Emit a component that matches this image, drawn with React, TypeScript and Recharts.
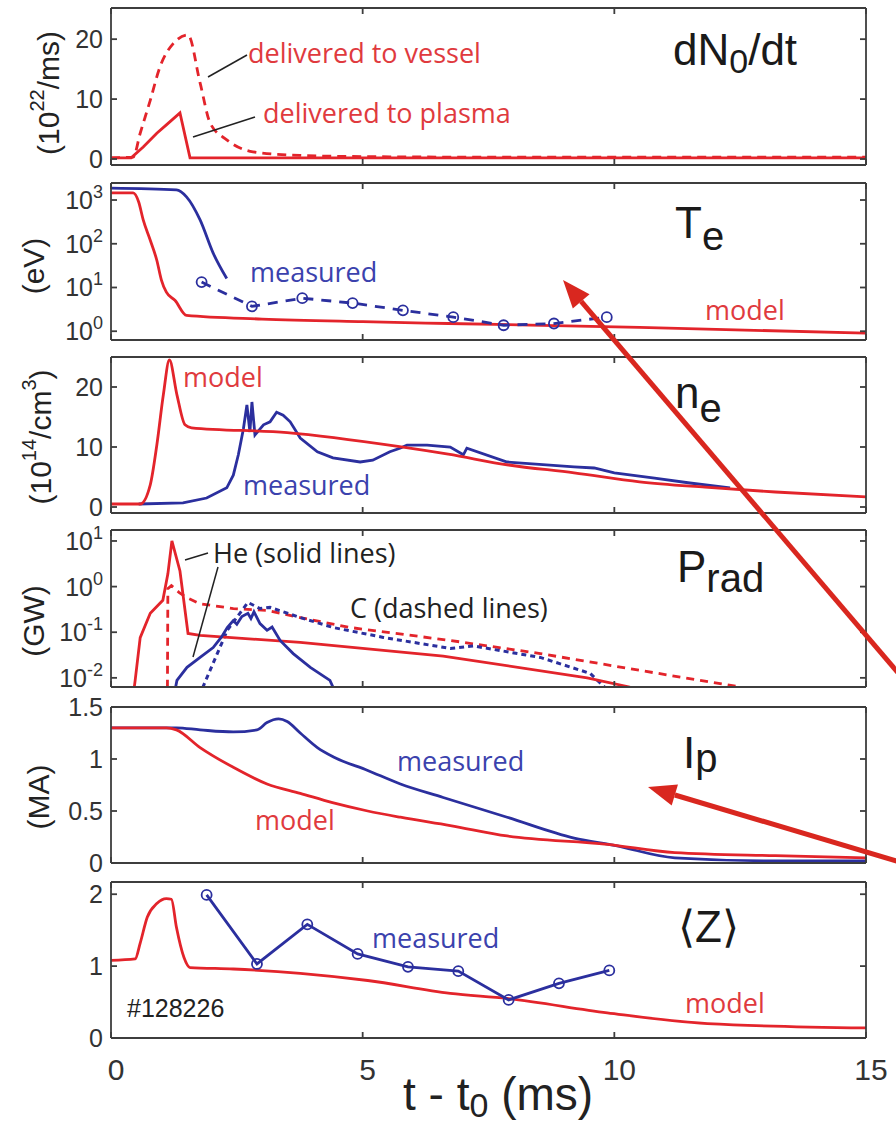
import React from 'react';
import { LineChart, Line, XAxis, YAxis } from 'recharts';

const RED = '#e3242b';
const BLUE = '#2b2f9e';
const RED_TXT = '#e03a3e';
const BLUE_TXT = '#3b42ad';
const AXIS = '#3d3d3d';
const SANS = '"Liberation Sans", Arial, Helvetica, sans-serif';
const MYRIAD = '"Open Sans", "Noto Sans", sans-serif';

const X_TICKS = [0, 5, 10, 15];

// dN0/dt (10^22/ms)
const dnPlasmaT = [0, 0.4, 0.64, 0.91, 1.1, 1.37, 1.57, 15];
const dnPlasmaV = [0.2, 0.2, 2, 4.3, 5.7, 7.7, 0.2, 0.2];
const dnVesselT = [0, 0.44, 0.58, 0.78, 0.97, 1.24, 1.53, 1.77, 1.97, 2.3, 2.82, 3.75, 5, 8, 15];
const dnVesselV = [0.2, 0.3, 4.3, 9.8, 15.3, 19.3, 20.7, 12.7, 6, 3.2, 1.2, 0.6, 0.4, 0.3, 0.3];

// Te (eV), log
const teModelT = [0, 0.44, 0.55, 0.64, 0.78, 0.91, 1.0, 1.1, 1.27, 1.5, 3, 5, 6.7, 10.5, 15];
const teModelV = [1450, 1450, 900, 350, 120, 42, 15, 7.8, 5.1, 2.3, 1.9, 1.65, 1.5, 1.23, 0.9];
const teMeasT = [0, 1.3, 1.5, 1.77, 2.03, 2.3];
const teMeasV = [1880, 1700, 1180, 350, 61, 16];
const teDotsT = [1.8, 2.8, 3.8, 4.8, 5.8, 6.8, 7.8, 8.8, 9.85];
const teDotsV = [13.3, 3.7, 5.7, 4.4, 3.0, 2.1, 1.37, 1.5, 2.1];

// ne (10^14/cm^3)
const neModelT = [0, 0.58, 0.78, 0.91, 1.04, 1.16, 1.31, 1.47, 1.6, 3.5, 5.7, 6.7, 7.9, 9.2, 10.5, 11.8, 13.2, 15];
const neModelV = [0.5, 0.5, 3.7, 10.3, 18.7, 24.5, 18.7, 13.7, 13.2, 12.4, 10.1, 8.8, 7, 5.7, 4.2, 3.3, 2.5, 1.7];
const neMeasT = [0.55, 1.43, 1.9, 2.3, 2.43, 2.53, 2.63, 2.7, 2.76, 2.8, 2.86, 3.03, 3.16, 3.29, 3.42, 3.56, 3.76, 4.1, 4.41, 4.95, 5.2, 5.54, 5.74, 5.88, 6.08, 6.28, 6.74, 7.0, 7.07, 7.87, 9.2, 9.6, 10, 10.8, 11.5, 12.3];
const neMeasV = [0.5, 0.7, 1.5, 3.2, 5.3, 8.7, 13, 17, 12.5, 17.5, 12, 13.7, 14.2, 15.8, 15.3, 14.2, 11.5, 9.2, 8.2, 7.5, 7.8, 9.2, 9.8, 10.3, 10.3, 10.3, 10, 8.7, 9.8, 7.5, 6.7, 6.5, 5.7, 4.8, 4, 3.2];

// Prad (GW), log
const prHeModelT = [0.44, 0.48, 0.58, 0.78, 1.03, 1.13, 1.21, 1.37, 1.53, 1.77, 3.76, 6.6, 9.46, 10.3, 10.6];
const prHeModelV = [0.004, 0.0088, 0.076, 0.26, 0.5, 1.9, 10, 2.2, 0.094, 0.085, 0.06, 0.03, 0.01, 0.0063, 0.004];
const prCModelT = [1.12, 1.13, 1.2, 1.35, 1.51, 1.77, 2.43, 3.1, 3.76, 4.75, 6.74, 8.53, 10.52, 12.5, 12.7];
const prCModelV = [0.003, 0.9, 1.05, 0.75, 0.57, 0.42, 0.33, 0.3, 0.21, 0.127, 0.066, 0.034, 0.0145, 0.0063, 0.004];
const prHeMeasT = [1.25, 1.31, 1.51, 1.77, 2.03, 2.2, 2.31, 2.43, 2.5, 2.6, 2.72, 2.78, 2.84, 2.96, 3.1, 3.2, 3.36, 3.62, 3.96, 4.35, 4.45];
const prHeMeasV = [0.004, 0.0088, 0.017, 0.028, 0.046, 0.08, 0.127, 0.18, 0.15, 0.22, 0.26, 0.2, 0.28, 0.155, 0.11, 0.13, 0.066, 0.034, 0.017, 0.0088, 0.005];
const prCMeasT = [1.75, 2.03, 2.31, 2.56, 2.72, 2.96, 3.16, 3.76, 4.41, 5.41, 6.74, 7.2, 8.53, 9.52, 9.9];
const prCMeasV = [0.004, 0.021, 0.11, 0.26, 0.45, 0.33, 0.35, 0.21, 0.127, 0.077, 0.044, 0.05, 0.028, 0.0125, 0.005];

// Ip (MA)
const ipModelT = [0, 1.1, 1.3, 1.77, 2.43, 3.1, 3.76, 4.4, 5.1, 5.75, 6.74, 7.87, 9.86, 11.2, 13.2, 15];
const ipModelV = [1.3, 1.3, 1.28, 1.11, 0.92, 0.76, 0.67, 0.58, 0.5, 0.44, 0.36, 0.26, 0.18, 0.1, 0.07, 0.05];
const ipMeasT = [0, 1.3, 1.77, 2.43, 2.9, 3.1, 3.33, 3.5, 3.76, 4.1, 4.42, 5.1, 5.75, 6.6, 7.87, 9.2, 10, 11.2, 13.2, 15];
const ipMeasV = [1.3, 1.3, 1.28, 1.26, 1.28, 1.35, 1.385, 1.36, 1.25, 1.11, 1.02, 0.89, 0.76, 0.63, 0.44, 0.24, 0.17, 0.05, 0.02, 0.02];

// <Z>
const zModelT = [0, 0.48, 0.58, 0.72, 0.91, 1.1, 1.2, 1.3, 1.45, 1.57, 2.43, 3.76, 5.1, 6.74, 7.87, 9.86, 11.85, 15];
const zModelV = [1.08, 1.1, 1.32, 1.68, 1.87, 1.94, 1.93, 1.54, 1.12, 0.98, 0.96, 0.9, 0.8, 0.62, 0.55, 0.35, 0.2, 0.14];
const zMeasT = [1.9, 2.9, 3.9, 4.9, 5.9, 6.9, 7.9, 8.9, 9.9];
const zMeasV = [1.99, 1.03, 1.58, 1.17, 0.99, 0.93, 0.53, 0.76, 0.94];

const pts = (ts: number[], vs: number[]) => ts.map((t, i) => ({ t, v: vs[i] }));

const NoTick = () => <g />;

function LinTick({ x, y, payload }: any) {
  return (
    <text x={x} y={y} dy={9} textAnchor="end" fontSize={25} fill="#333" fontFamily={SANS}>
      {payload.value}
    </text>
  );
}

function LogTick({ x, y, payload }: any) {
  const e = Math.round(Math.log10(payload.value));
  return (
    <text x={x} y={y} dy={9} textAnchor="end" fontSize={25} fill="#333" fontFamily={SANS}>
      10<tspan dy={-11} fontSize={18}>{e}</tspan>
    </text>
  );
}

function XTick({ x, y, payload }: any) {
  return (
    <text x={x + 5} y={y} dy={21} textAnchor="middle" fontSize={30} fill="#333" fontFamily={SANS}>
      {payload.value}
    </text>
  );
}

const axisStyle = { stroke: AXIS, strokeWidth: 1.8 };

function Panel({ top, h, domain, ticks, log, last, children }: any) {
  const pad = 14;
  const bottom = last ? 80 : pad;
  const scale = log ? 'log' : 'linear';
  // invisible series tied to the top/right axes so that they draw the frame
  const frame = [{ t: 0, v: domain[0] }, { t: 15, v: domain[1] }];
  return (
    <div style={{ position: 'absolute', left: 0, top: top - pad - 1 }}>
      <LineChart width={896} height={h + pad + bottom + 2} margin={{ top: pad, right: 29, bottom, left: 0 }}>
        <XAxis xAxisId="b" dataKey="t" type="number" domain={[0, 15]} ticks={X_TICKS} allowDataOverflow
          height={1} tickSize={-6} tickMargin={27} axisLine={axisStyle} tickLine={axisStyle}
          tick={last ? XTick : NoTick} />
        <XAxis xAxisId="top" orientation="top" dataKey="t" type="number" domain={[0, 15]} ticks={X_TICKS}
          allowDataOverflow height={1} tickSize={-6} axisLine={axisStyle} tickLine={axisStyle} tick={NoTick} />
        <YAxis yAxisId="l" type="number" scale={scale} domain={domain} ticks={ticks} allowDataOverflow
          width={111} tickSize={-6} tickMargin={14} axisLine={axisStyle} tickLine={axisStyle}
          tick={log ? LogTick : LinTick} />
        <YAxis yAxisId="r" orientation="right" type="number" scale={scale} domain={domain} ticks={ticks}
          allowDataOverflow width={1} tickSize={-6} axisLine={axisStyle} tickLine={axisStyle} tick={NoTick} />
        <Line xAxisId="top" yAxisId="r" data={frame} dataKey="v" stroke="none" dot={false}
          isAnimationActive={false} />
        {children}
      </LineChart>
    </div>
  );
}

const base = { xAxisId: 'b', yAxisId: 'l', dataKey: 'v', isAnimationActive: false, dot: false, strokeWidth: 2.8 };

function Arrow({ tip, tail }: { tip: [number, number]; tail: [number, number] }) {
  const dx = tail[0] - tip[0];
  const dy = tail[1] - tip[1];
  const len = Math.hypot(dx, dy);
  const ux = dx / len;
  const uy = dy / len;
  const bx = tip[0] + ux * 28;
  const by = tip[1] + uy * 28;
  const hw = 11;
  return (
    <g>
      <line x1={bx} y1={by} x2={tail[0]} y2={tail[1]} stroke="#d9271f" strokeWidth={5} />
      <polygon
        points={`${tip[0]},${tip[1]} ${bx - uy * hw},${by + ux * hw} ${bx + uy * hw},${by - ux * hw}`}
        fill="#d9271f"
      />
    </g>
  );
}

function Overlay() {
  const ylab = (x: number, y: number, content: any) => (
    <text transform={`rotate(-90 ${x} ${y})`} x={x} y={y} textAnchor="middle" dominantBaseline="central"
      fontSize={30} fill="#222" fontFamily={SANS}>{content}</text>
  );
  const title = { fontSize: 44, fill: '#1a1a1a', fontFamily: SANS };
  const ann = { fontSize: 27, fontFamily: MYRIAD };
  return (
    <svg width={896} height={1124} style={{ position: 'absolute', left: 0, top: 0, pointerEvents: 'none' }}>
      {ylab(48, 93, <>(10<tspan dy={-11} fontSize={20}>22</tspan><tspan dy={11}>/ms)</tspan></>)}
      {ylab(33, 266, '(eV)')}
      {ylab(40, 437, <>(10<tspan dy={-11} fontSize={20}>14</tspan><tspan dy={11}>/cm</tspan><tspan dy={-11} fontSize={20}>3</tspan><tspan dy={11}>)</tspan></>)}
      {ylab(33, 621, '(GW)')}
      {ylab(38, 797, '(MA)')}

      <text x={673} y={65} {...title}>dN<tspan dy={8} fontSize={34}>0</tspan><tspan dy={-8}>/dt</tspan></text>
      <text x={675} y={238} {...title}>T<tspan dy={12} fontSize={40}>e</tspan></text>
      <text x={675} y={408} {...title}>n<tspan dy={14} fontSize={40}>e</tspan></text>
      <text x={677} y={582} {...title}>P<tspan dy={10} fontSize={40}>rad</tspan></text>
      <text x={683} y={768} {...title}>I<tspan dy={4} fontSize={40}>p</tspan></text>
      <text x={678} y={942} {...title}>⟨Z⟩</text>

      <text x={248} y={63} fill={RED_TXT} {...ann}>delivered to vessel</text>
      <text x={263} y={123} fill={RED_TXT} {...ann}>delivered to plasma</text>
      <line x1={208} y1={77} x2={247} y2={55} stroke="#222" strokeWidth={1.5} />
      <line x1={193} y1={137} x2={255} y2={117} stroke="#222" strokeWidth={1.5} />

      <text x={250} y={282} fill={BLUE_TXT} {...ann}>measured</text>
      <text x={705} y={320} fill={RED_TXT} {...ann}>model</text>

      <text x={183} y={387} fill={RED_TXT} {...ann}>model</text>
      <text x={243} y={495} fill={BLUE_TXT} {...ann}>measured</text>

      <text x={213} y={563} fill="#222" {...ann}>He (solid lines)</text>
      <text x={350} y={618} fill="#222" {...ann}>C (dashed lines)</text>
      <line x1={185} y1={560} x2={208} y2={553} stroke="#222" strokeWidth={1.5} />
      <line x1={218} y1={567} x2={193} y2={657} stroke="#222" strokeWidth={1.5} />

      <text x={397} y={771} fill={BLUE_TXT} {...ann}>measured</text>
      <text x={255} y={830} fill={RED_TXT} {...ann}>model</text>

      <text x={372} y={948} fill={BLUE_TXT} {...ann}>measured</text>
      <text x={685} y={1013} fill={RED_TXT} {...ann}>model</text>
      <text x={127} y={1017} fontSize={25} fill="#222" fontFamily={SANS}>#128226</text>

      <text x={403} y={1110} fontSize={46} fill="#222" fontFamily={SANS}>
        t - t<tspan dy={7} fontSize={34}>0</tspan><tspan dy={-7}> (ms)</tspan>
      </text>

      <Arrow tip={[563, 280]} tail={[900, 675]} />
      <Arrow tip={[648, 787]} tail={[900, 862]} />
    </svg>
  );
}

export default function App() {
  return (
    <div style={{ position: 'absolute', left: 0, top: 0, width: 896, height: 1124, background: '#fff' }}>
      <Panel top={8} h={157} domain={[-1, 25.2]} ticks={[0, 10, 20]}>
        <Line {...base} data={pts(dnVesselT, dnVesselV)} stroke={RED} strokeDasharray="9 6" type="monotoneX" />
        <Line {...base} data={pts(dnPlasmaT, dnPlasmaV)} stroke={RED} type="linear" />
      </Panel>

      <Panel top={183} h={157} domain={[0.63, 2450]} ticks={[1, 10, 100, 1000]} log>
        <Line {...base} data={pts(teModelT, teModelV)} stroke={RED} type="monotoneX" />
        <Line {...base} data={pts(teMeasT, teMeasV)} stroke={BLUE} type="monotoneX" />
        <Line {...base} data={pts(teDotsT, teDotsV)} stroke={BLUE} type="linear" strokeDasharray="10 8"
          dot={{ r: 5, stroke: BLUE, strokeWidth: 1.8, fill: 'none', strokeDasharray: 'none' }} />
      </Panel>

      <Panel top={357} h={156} domain={[-1, 25]} ticks={[0, 10, 20]}>
        <Line {...base} data={pts(neMeasT, neMeasV)} stroke={BLUE} type="linear" />
        <Line {...base} data={pts(neModelT, neModelV)} stroke={RED} type="monotoneX" />
      </Panel>

      <Panel top={530} h={157} domain={[0.0063, 17.4]} ticks={[0.01, 0.1, 1, 10]} log>
        <Line {...base} data={pts(prCModelT, prCModelV)} stroke={RED} type="linear" strokeDasharray="8 6" />
        <Line {...base} data={pts(prCMeasT, prCMeasV)} stroke={BLUE} type="linear" strokeDasharray="5 4" strokeWidth={3} />
        <Line {...base} data={pts(prHeModelT, prHeModelV)} stroke={RED} type="linear" />
        <Line {...base} data={pts(prHeMeasT, prHeMeasV)} stroke={BLUE} type="linear" />
      </Panel>

      <Panel top={707} h={156} domain={[0, 1.5]} ticks={[0, 0.5, 1, 1.5]}>
        <Line {...base} data={pts(ipMeasT, ipMeasV)} stroke={BLUE} type="monotoneX" />
        <Line {...base} data={pts(ipModelT, ipModelV)} stroke={RED} type="monotoneX" />
      </Panel>

      <Panel top={882} h={156} domain={[0, 2.17]} ticks={[0, 1, 2]} last>
        <Line {...base} data={pts(zModelT, zModelV)} stroke={RED} type="monotoneX" />
        <Line {...base} data={pts(zMeasT, zMeasV)} stroke={BLUE} type="linear"
          dot={{ r: 5, stroke: BLUE, strokeWidth: 1.8, fill: 'none' }} />
      </Panel>

      <Overlay />
    </div>
  );
}
